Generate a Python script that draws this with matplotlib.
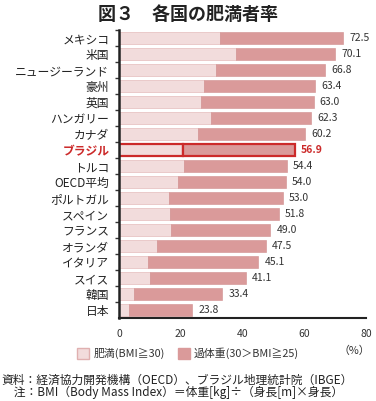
import matplotlib
matplotlib.use("Agg")
import matplotlib.pyplot as plt
from matplotlib.patches import Patch

plt.rcParams['font.family'] = ['Noto Sans CJK JP', 'DejaVu Sans']

countries = ['メキシコ', '米国', 'ニュージーランド', '豪州', '英国', 'ハンガリー', 'カナダ',
             'ブラジル', 'トルコ', 'OECD平均', 'ポルトガル', 'スペイン', 'フランス',
             'オランダ', 'イタリア', 'スイス', '韓国', '日本']
obese = [32.8, 37.9, 31.4, 27.5, 26.6, 29.8, 25.6, 20.6, 21.1, 19.2, 16.3, 16.5, 16.7,
         12.4, 9.4, 10.0, 4.9, 3.2]
total = [72.5, 70.1, 66.8, 63.4, 63.0, 62.3, 60.2, 56.9, 54.4, 54.0, 53.0, 51.8, 49.0,
         47.5, 45.1, 41.1, 33.4, 23.8]
total_labels = ['72.5', '70.1', '66.8', '63.4', '63.0', '62.3', '60.2', '56.9', '54.4',
                '54.0', '53.0', '51.8', '49.0', '47.5', '45.1', '41.1', '33.4', '23.8']
highlight = 'ブラジル'

light = '#f2dcdc'
dark = '#da9a9a'
red = '#cc2a2a'

fig = plt.figure(figsize=(3.76, 4.01), dpi=100)
ax = fig.add_axes([0.3165, 0.207, 0.657, 0.718])

n = len(countries)
ys = [n - 1 - i for i in range(n)]
over = [t - o for t, o in zip(total, obese)]

for y, c, o, v, t, lab in zip(ys, countries, obese, over, total, total_labels):
    if c == highlight:
        ax.barh(y, o, height=0.72, color=light, edgecolor=red, linewidth=1.6)
        ax.barh(y, v, left=o, height=0.72, color=dark, edgecolor=red, linewidth=1.6)
        ax.text(t + 2, y, lab, va='center', ha='left', fontsize=7.5, color=red,
                fontweight='bold')
    else:
        ax.barh(y, o, height=0.75, color=light, edgecolor='#e8c4c4', linewidth=0.6)
        ax.barh(y, v, left=o, height=0.75, color=dark, edgecolor='#d08e8e', linewidth=0.4)
        ax.text(t + 2, y, lab, va='center', ha='left', fontsize=7.5, color='#333333')

ax.set_xlim(0, 80)
ax.set_ylim(-0.5, n - 0.5)
ax.set_xticks([0, 20, 40, 60, 80])
ax.tick_params(axis='x', length=0, labelsize=7.5, colors='#333333', pad=8)
ax.set_yticks(ys)
ax.set_yticklabels(countries, fontsize=8.5)
ax.set_yticks([y + 0.5 for y in range(n)], minor=True)
ax.tick_params(axis='y', which='major', length=0, pad=7)
ax.tick_params(axis='y', which='minor', length=3, width=1, color='#333333')
for lbl in ax.get_yticklabels():
    if lbl.get_text() == highlight:
        lbl.set_color(red)
        lbl.set_fontweight('bold')
    else:
        lbl.set_color('#222222')

for s in ['top', 'right']:
    ax.spines[s].set_visible(False)
ax.spines['left'].set_linewidth(1.8)
ax.spines['bottom'].set_linewidth(1.5)
ax.spines['left'].set_color('#222222')
ax.spines['bottom'].set_color('#222222')

fig.text(0.5, 0.965, '図３　各国の肥満者率', ha='center', va='center', fontsize=13,
         fontweight='bold', color='#222222')

handles = [Patch(facecolor=light, edgecolor='#e0b0b0', linewidth=1.0),
           Patch(facecolor=dark, edgecolor=dark)]
fig.legend(handles, ['肥満(BMI≧30)', '過体重(30＞BMI≧25)'], loc='center',
           bbox_to_anchor=(0.5, 0.118), ncol=2, frameon=False, fontsize=7.8,
           handlelength=1.1, handleheight=1.1, handletextpad=0.4, columnspacing=1.2,
           labelcolor='#333333')
fig.text(0.985, 0.125, '（%）', ha='right', va='center', fontsize=7.8, color='#333333')

fig.text(0.005, 0.052, '資料：経済協力開発機構（OECD）、ブラジル地理統計院（IBGE）',
         ha='left', va='center', fontsize=8.5, color='#222222')
fig.text(0.005, 0.022, '　注：BMI（Body Mass Index）＝体重[kg]÷（身長[m]×身長）',
         ha='left', va='center', fontsize=8.5, color='#222222')

fig.savefig('out.png', dpi=100)
